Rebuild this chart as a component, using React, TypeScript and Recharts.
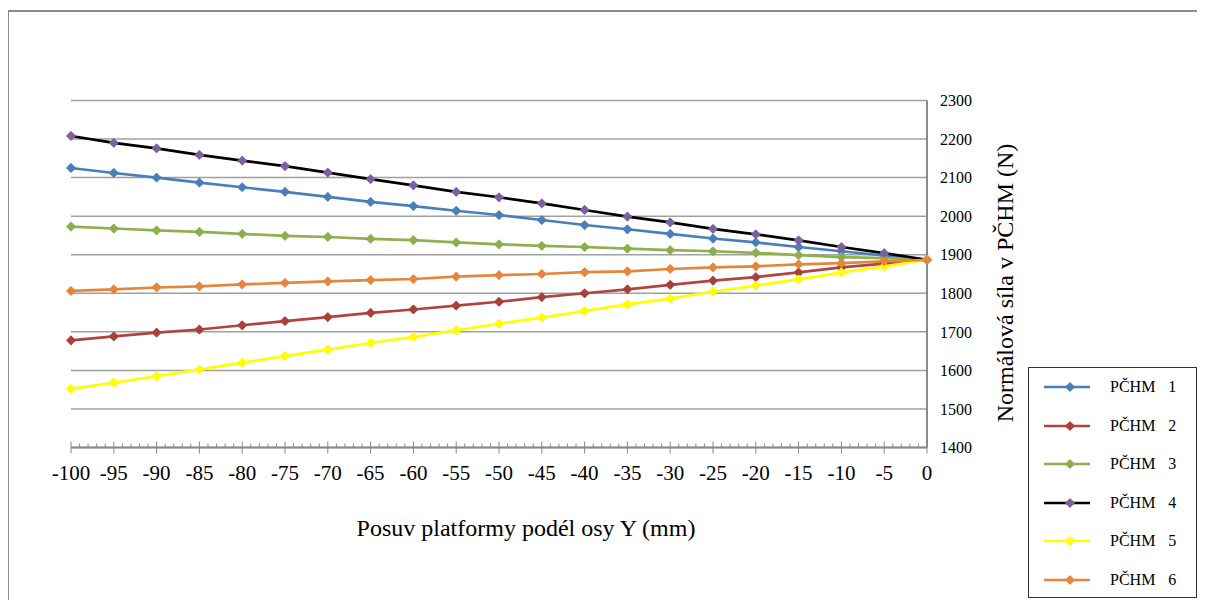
import { CartesianGrid, Legend, Line, LineChart, XAxis, YAxis } from "recharts";

const xValues = [-100, -95, -90, -85, -80, -75, -70, -65, -60, -55, -50, -45, -40, -35, -30, -25, -20, -15, -10, -5, 0];

const pchm1 = [2125, 2112, 2100, 2087, 2075, 2063, 2050, 2037, 2026, 2014, 2003, 1990, 1977, 1966, 1954, 1942, 1932, 1920, 1909, 1898, 1887];
const pchm2 = [1678, 1688, 1698, 1706, 1717, 1728, 1738, 1749, 1758, 1768, 1778, 1790, 1800, 1810, 1822, 1833, 1842, 1854, 1867, 1877, 1887];
const pchm3 = [1973, 1968, 1963, 1959, 1954, 1949, 1946, 1941, 1938, 1932, 1927, 1923, 1920, 1916, 1912, 1909, 1905, 1899, 1894, 1891, 1887];
const pchm4 = [2208, 2190, 2176, 2159, 2144, 2130, 2113, 2096, 2080, 2063, 2049, 2033, 2016, 1999, 1984, 1967, 1953, 1937, 1920, 1904, 1887];
const pchm5 = [1552, 1568, 1585, 1602, 1620, 1637, 1654, 1671, 1687, 1704, 1721, 1737, 1754, 1771, 1786, 1804, 1820, 1836, 1854, 1870, 1887];
const pchm6 = [1806, 1810, 1815, 1818, 1823, 1827, 1831, 1834, 1837, 1843, 1847, 1850, 1855, 1857, 1863, 1867, 1870, 1875, 1878, 1883, 1887];

const yTicks = [1400, 1500, 1600, 1700, 1800, 1900, 2000, 2100, 2200, 2300];
// labelled ticks every 5 mm, minor tick every 1 mm
const xAllTicks = Array.from({ length: 101 }, (_, i) => i - 100);

const series = [
  { key: "p1", name: "PČHM 1", values: pchm1, stroke: "#4A7EBB", marker: "#4A7EBB" },
  { key: "p2", name: "PČHM 2", values: pchm2, stroke: "#B0443F", marker: "#A8403C" },
  { key: "p3", name: "PČHM 3", values: pchm3, stroke: "#8FB050", marker: "#8DAE4E" },
  { key: "p4", name: "PČHM 4", values: pchm4, stroke: "#000000", marker: "#7D60A0" },
  { key: "p5", name: "PČHM 5", values: pchm5, stroke: "#FFFF00", marker: "#FFFF00" },
  { key: "p6", name: "PČHM 6", values: pchm6, stroke: "#E6863E", marker: "#E6863E" },
];

const data = xValues.map((x, i) => {
  const row: Record<string, number> = { x };
  series.forEach((s) => (row[s.key] = s.values[i]));
  return row;
});

const FONT = '"Liberation Serif", "Times New Roman", serif';

function Diamond({ cx, cy, fill }: { cx?: number; cy?: number; fill: string }) {
  if (cx == null || cy == null) return null;
  const r = 4.2;
  return (
    <polygon
      points={`${cx},${cy - r} ${cx + r},${cy} ${cx},${cy + r} ${cx - r},${cy}`}
      fill={fill}
      stroke={fill}
      strokeWidth={1.2}
      strokeLinejoin="round"
    />
  );
}

function XTick({ x, y, payload }: any) {
  const v = payload.value;
  if (v % 5 !== 0) {
    return <line x1={x} x2={x} y1={y - 4} y2={y} stroke="#8a8a8a" strokeWidth={1} />;
  }
  return (
    <g>
      <line x1={x} x2={x} y1={y - 6} y2={y + 6} stroke="#8a8a8a" strokeWidth={1} />
      <text x={x} y={y + 32} textAnchor="middle" fontSize={21} fontFamily={FONT} fill="#000">
        {v}
      </text>
    </g>
  );
}

function LegendBox() {
  return (
    <div>
      {series.map((s) => (
        <div key={s.key} style={{ display: "flex", alignItems: "center", height: 38.5 }}>
          <svg width={62} height={12} style={{ display: "block" }}>
            <line x1={15} x2={61} y1={6} y2={6} stroke={s.stroke} strokeWidth={2.5} />
            <Diamond cx={41} cy={6} fill={s.marker} />
          </svg>
          <span
            style={{
              marginLeft: 19,
              fontSize: 16,
              fontFamily: FONT,
              color: "#000",
              wordSpacing: 9,
              whiteSpace: "nowrap",
            }}
          >
            {s.name}
          </span>
        </div>
      ))}
    </div>
  );
}

export default function App() {
  return (
    <div style={{ position: "relative", width: 1197, height: 592, fontFamily: FONT }}>
      <div
        style={{
          position: "absolute",
          left: -1,
          top: 2,
          width: 1198,
          height: 590,
          borderTop: "2px solid #8c8c8c",
          borderLeft: "2px solid #8c8c8c",
          boxSizing: "border-box",
        }}
      />
      <LineChart
        width={1197}
        height={592}
        data={data}
        margin={{ top: 92.5, right: 0, bottom: 92.5, left: 63 }}
      >
        <CartesianGrid horizontal vertical={false} stroke="#a0a0a0" strokeWidth={1.5} />
        <XAxis
          dataKey="x"
          type="number"
          domain={[-100, 0]}
          ticks={xAllTicks}
          interval={0}
          tick={<XTick />}
          tickLine={false}
          tickSize={0}
          tickMargin={0}
          height={60}
          axisLine={{ stroke: "#8a8a8a", strokeWidth: 2 }}
        />
        <YAxis
          orientation="right"
          type="number"
          domain={[1400, 2300]}
          ticks={yTicks}
          interval={0}
          width={278}
          tickLine={false}
          tickSize={0}
          tickMargin={13}
          axisLine={{ stroke: "#8a8a8a", strokeWidth: 2 }}
          tick={{ fontSize: 16, fill: "#000", fontFamily: FONT, textAnchor: "start" }}
        />
        <Legend
          layout="vertical"
          align="center"
          verticalAlign="middle"
          content={() => <LegendBox />}
          wrapperStyle={{
            left: 1020,
            top: 359,
            width: 169,
            height: 231,
            border: "1.5px solid #333",
            boxSizing: "border-box",
            background: "#fff",
          }}
        />
        {series.map((s) => (
          <Line
            key={s.key}
            type="linear"
            dataKey={s.key}
            name={s.name}
            stroke={s.stroke}
            strokeWidth={2.7}
            dot={(p: any) => <Diamond key={`${s.key}-${p.index}`} cx={p.cx} cy={p.cy} fill={s.marker} />}
            activeDot={false}
            isAnimationActive={false}
          />
        ))}
      </LineChart>
      <div
        style={{
          position: "absolute",
          left: 518,
          top: 520,
          transform: "translate(-50%, -50%)",
          fontSize: 24,
          whiteSpace: "nowrap",
          color: "#000",
        }}
      >
        Posuv platformy podél osy Y (mm)
      </div>
      <div
        style={{
          position: "absolute",
          left: 997,
          top: 275,
          transform: "translate(-50%, -50%) rotate(-90deg)",
          fontSize: 24,
          whiteSpace: "nowrap",
          color: "#000",
        }}
      >
        Normálová síla v PČHM (N)
      </div>
    </div>
  );
}
